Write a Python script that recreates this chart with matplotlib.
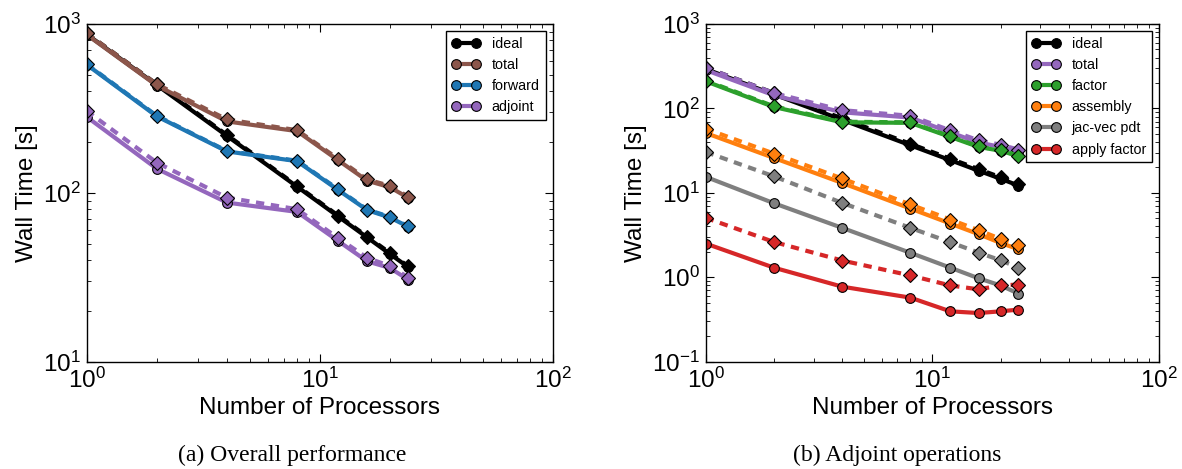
import matplotlib
matplotlib.use("Agg")
import matplotlib.pyplot as plt
from matplotlib.ticker import LogLocator, NullFormatter

plt.rcParams['font.family'] = ['Liberation Sans', 'DejaVu Sans']
plt.rcParams['mathtext.fontset'] = 'custom'
plt.rcParams['mathtext.rm'] = 'Liberation Sans'
plt.rcParams['mathtext.it'] = 'Liberation Sans:italic'
plt.rcParams['mathtext.default'] = 'regular'

procs = [1, 2, 4, 8, 12, 16, 20, 24]

# ---- (a) Overall performance ----
a_ideal = [870, 435, 217.5, 108.8, 72.5, 54.4, 43.5, 36.3]
a_ideal_d = [881, 440.5, 220.3, 110.1, 73.4, 55.1, 44.1, 36.7]
a_total = [865, 432, 265, 232, 156, 118, 108, 93.5]
a_total_d = [881, 440, 272, 235, 159, 120, 110, 95]
a_forward = [575, 284, 176, 154, 104, 79, 71.5, 63]
a_forward_d = [579, 286, 177, 155, 105, 79.6, 72.1, 63.4]
a_adjoint = [282, 139, 87.6, 77.1, 51.9, 39.3, 35.9, 30.6]
a_adjoint_d = [306, 151, 93.7, 80, 54, 41.2, 36.9, 31.5]

# ---- (b) Adjoint operations ----
b_ideal = [293, 146.5, 73.3, 36.6, 24.4, 18.3, 14.7, 12.2]
b_ideal_d = [305, 152.5, 76.3, 38.1, 25.4, 19.1, 15.3, 12.7]
b_total = [285, 143, 90, 78, 52, 39.5, 35, 30.5]
b_total_d = [305, 152, 95.4, 81.8, 55, 41.9, 37.2, 32.5]
b_factor = [210, 104, 68.5, 67.5, 46, 35, 31.5, 27.2]
b_factor_d = [214, 106, 69.6, 68.4, 46.7, 35.5, 31.9, 27.6]
b_assembly = [51.2, 25.9, 13.1, 6.52, 4.33, 3.24, 2.55, 2.15]
b_assembly_d = [57.5, 29.2, 14.8, 7.28, 4.83, 3.61, 2.85, 2.44]
b_jacvec = [15.5, 7.54, 3.85, 1.95, 1.30, 0.973, 0.80, 0.64]
b_jacvec_d = [30.5, 15.7, 7.61, 3.85, 2.60, 1.96, 1.59, 1.30]
b_apply = [2.51, 1.30, 0.774, 0.574, 0.395, 0.377, 0.395, 0.414]
b_apply_d = [5.06, 2.62, 1.58, 1.05, 0.80, 0.72, 0.80, 0.82]

labels_a = ['ideal', 'total', 'forward', 'adjoint']
colors_a = ['black', '#8c564b', '#1f77b4', '#9467bd']
series_a = [(a_ideal, a_ideal_d), (a_total, a_total_d),
            (a_forward, a_forward_d), (a_adjoint, a_adjoint_d)]

labels_b = ['ideal', 'total', 'factor', 'assembly', 'jac-vec pdt', 'apply factor']
colors_b = ['black', '#9467bd', '#2ca02c', '#ff7f0e', '#7f7f7f', '#d62728']
series_b = [(b_ideal, b_ideal_d), (b_total, b_total_d), (b_factor, b_factor_d),
            (b_assembly, b_assembly_d), (b_jacvec, b_jacvec_d), (b_apply, b_apply_d)]

fig = plt.figure(figsize=(11.82, 4.69), dpi=100)
axA = fig.add_axes([0.0733, 0.2288, 0.3943, 0.72])
axB = fig.add_axes([0.5970, 0.2288, 0.3835, 0.72])

DASH = (0, (2.0, 1.6))


def draw(ax, labels, colors, series, ylim):
    for lab, col, (solid, dashed) in zip(labels, colors, series):
        ax.plot(procs, solid, color=col, lw=3, marker='o', ms=7,
                mec='black', mew=0.8, label=lab, solid_capstyle='butt')
        ax.plot(procs, dashed, color=col, lw=3, ls=DASH, marker='D', ms=7.5,
                mec='black', mew=0.8, dash_capstyle='butt')
    ax.set_xscale('log')
    ax.set_yscale('log')
    ax.set_xlim(1, 100)
    ax.set_ylim(*ylim)
    ax.set_xlabel('Number of Processors', fontsize=17.5, labelpad=3)
    ax.set_ylabel('Wall Time [s]', fontsize=17.5, labelpad=4)
    ax.tick_params(which='both', direction='in', top=True, right=True)
    ax.tick_params(which='major', length=6, width=0.8, labelsize=17.5, pad=4)
    ax.tick_params(which='minor', length=3, width=0.6)
    ax.xaxis.set_minor_locator(LogLocator(base=10, subs=range(2, 10)))
    ax.yaxis.set_minor_locator(LogLocator(base=10, subs=range(2, 10)))
    ax.xaxis.set_minor_formatter(NullFormatter())
    ax.yaxis.set_minor_formatter(NullFormatter())
    for s in ax.spines.values():
        s.set_linewidth(1.0)
    leg = ax.legend(loc='upper right', fontsize=10.3, numpoints=2,
                    fancybox=False, framealpha=1, edgecolor='black',
                    handlelength=2.0)
    leg.get_frame().set_linewidth(1.0)


draw(axA, labels_a, colors_a, series_a, (10, 1000))
draw(axB, labels_b, colors_b, series_b, (0.1, 1000))

fig.text(0.2468, 0.029, '(a) Overall performance', family='Liberation Serif',
         fontsize=17, ha='center', va='center')
fig.text(0.7590, 0.029, '(b) Adjoint operations', family='Liberation Serif',
         fontsize=17, ha='center', va='center')

fig.savefig('out.png', dpi=100)
